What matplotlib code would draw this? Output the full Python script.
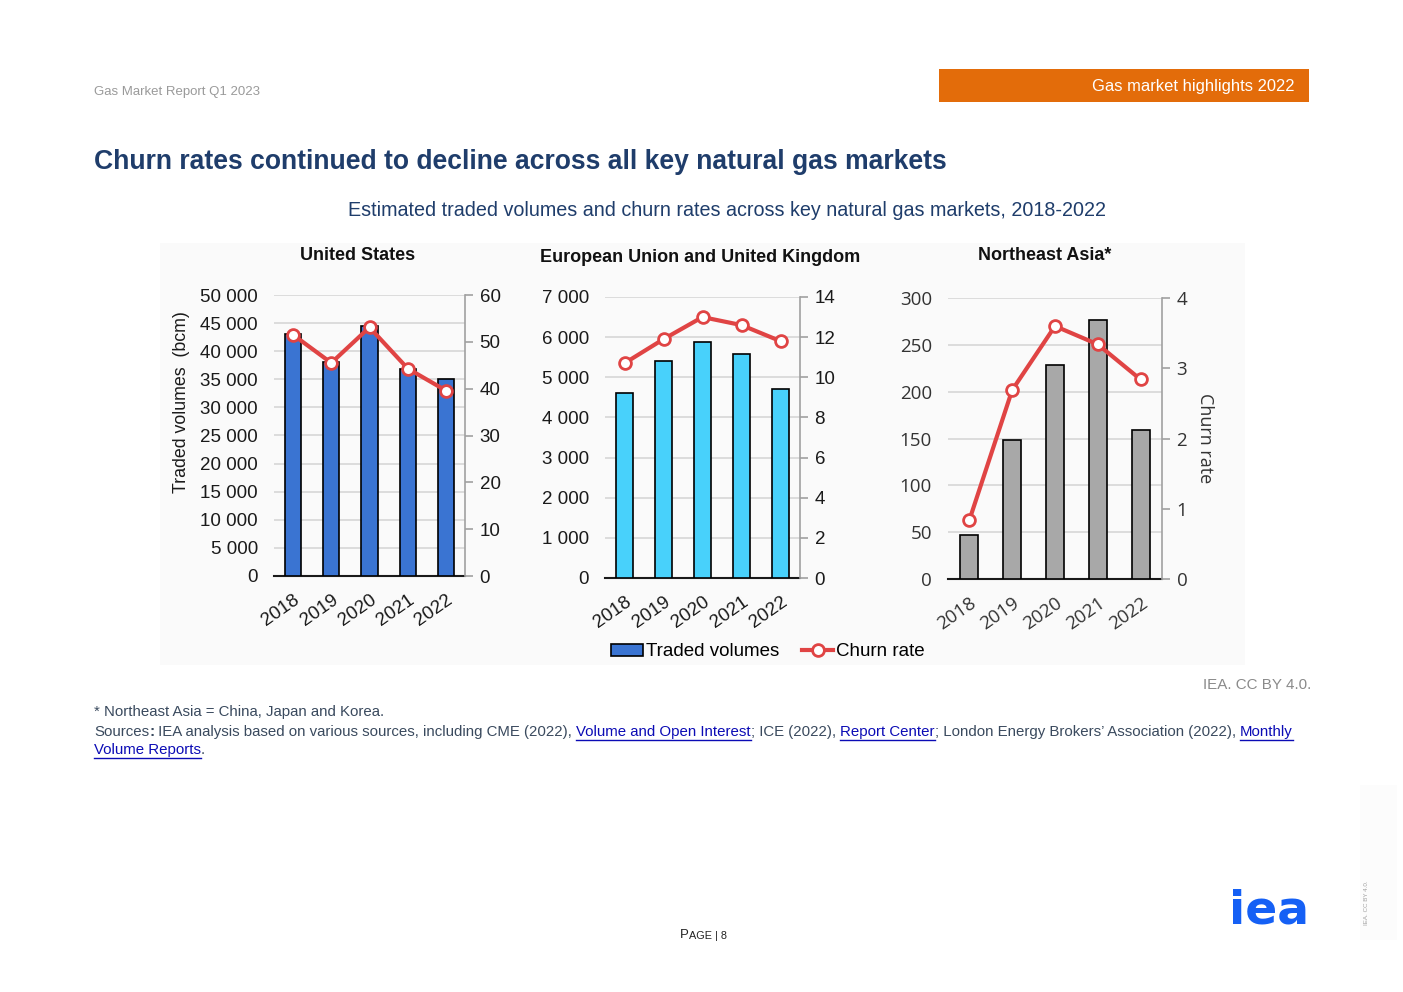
import matplotlib
matplotlib.use("Agg")
import matplotlib.pyplot as plt
from matplotlib.patches import Rectangle
from matplotlib.lines import Line2D

plt.rcParams["font.family"] = ["Liberation Sans", "DejaVu Sans"]

# ── data ─────────────────────────────────────────────────────────────────────
years = ["2018", "2019", "2020", "2021", "2022"]

us_volumes = [43000, 38100, 44500, 36900, 35100]
us_churn = [51.5, 45.5, 53.1, 44.3, 39.6]

eu_volumes = [4600, 5400, 5870, 5580, 4700]
eu_churn = [10.7, 11.9, 13.0, 12.6, 11.8]

nea_volumes = [47, 148, 229, 277, 159]
nea_churn = [0.84, 2.69, 3.6, 3.34, 2.84]

# ── palette ──────────────────────────────────────────────────────────────────
NAVY = "#1f3d6b"
ORANGE = "#e36c0a"
RED = "#e04444"
GRID = "#d9d9d9"
US_BLUE = "#3a74d2"
EU_CYAN = "#48d1fb"
NEA_GREY = "#a8a8a8"
LINK = "#0b0bb5"
FOOT = "#3a4a5e"

fig = plt.figure(figsize=(14.03, 9.92), dpi=100)
fig.patch.set_facecolor("white")

W, H = 1403, 992


def fx(px):
    return px / W


def fy(py):
    return 1 - py / H


# faint panel behind charts
fig.add_artist(Rectangle((fx(160), fy(665)), fx(1245) - fx(160), fy(243) - fy(665),
                         transform=fig.transFigure, fc="#fafafa", ec="none", zorder=0))
# faint strip at right edge
fig.add_artist(Rectangle((fx(1360), fy(940)), fx(37), fy(785) - fy(940),
                         transform=fig.transFigure, fc="#fcfcfc", ec="none", zorder=0))

# ── header ───────────────────────────────────────────────────────────────────
fig.text(fx(94), fy(92), "Gas Market Report Q1 2023", fontsize=9.5, color="#9a9a9a",
         ha="left", va="center")
fig.add_artist(Rectangle((fx(939), fy(102)), fx(1309) - fx(939), fy(69) - fy(102),
                         transform=fig.transFigure, fc=ORANGE, ec="none"))
fig.text(fx(1295), fy(86), "Gas market highlights 2022", fontsize=11.9, color="white",
         ha="right", va="center")

fig.text(fx(94), fy(162), "Churn rates continued to decline across all key natural gas markets",
         fontsize=19.1, fontweight="bold", color=NAVY, ha="left", va="center")
fig.text(fx(727), fy(210), "Estimated traded volumes and churn rates across key natural gas markets, 2018-2022",
         fontsize=14.25, color=NAVY, ha="center", va="center")


# ── charts ───────────────────────────────────────────────────────────────────
def panel(left, right, top, bottom, vols, churn, ymax, ystep, rmax, rstep,
          color, title, title_x, title_y, fmt, font=None):
    ax = fig.add_axes([fx(left), fy(bottom), fx(right) - fx(left), fy(top) - fy(bottom)])
    ax.set_facecolor("none")
    x = list(range(len(years)))
    ax.bar(x, vols, width=0.42, color=color, edgecolor="black", linewidth=1.2, zorder=3)
    ax.set_xlim(-0.5, len(years) - 0.5)
    ax.set_ylim(0, ymax)
    yt = list(range(0, ymax + 1, ystep))
    ax.set_yticks(yt)
    ax.set_yticklabels([fmt(v) for v in yt])
    ax.yaxis.grid(True, color=GRID, linewidth=1.3, zorder=0)
    ax.set_axisbelow(True)
    ax.tick_params(axis="y", length=0, pad=11.5, labelsize=13.5, labelcolor="#1a1a1a")
    ax.set_xticks(x)
    ax.set_xticklabels(years, rotation=35, ha="right", rotation_mode="anchor")
    ax.tick_params(axis="x", length=0, pad=11, labelsize=13.5, labelcolor="#1a1a1a")
    for s in ("left", "top", "right"):
        ax.spines[s].set_visible(False)
    ax.spines["bottom"].set_color("#1a1a1a")
    ax.spines["bottom"].set_linewidth(1.5)

    ax2 = ax.twinx()
    ax2.plot(x, churn, color=RED, linewidth=3, marker="o", markersize=8.5,
             markerfacecolor="white", markeredgecolor=RED, markeredgewidth=2, zorder=5)
    ax2.set_ylim(0, rmax)
    rt = list(range(0, rmax + 1, rstep))
    ax2.set_yticks(rt)
    ax2.tick_params(axis="y", length=6, width=1.2, color="#a0a0a0", pad=4.5,
                    labelsize=13.5, labelcolor="#1a1a1a")
    for s in ("left", "top", "bottom"):
        ax2.spines[s].set_visible(False)
    ax2.spines["right"].set_color("#a0a0a0")
    ax2.spines["right"].set_linewidth(1.2)

    if font:
        for lab in ax.get_yticklabels() + ax.get_xticklabels() + ax2.get_yticklabels():
            lab.set_family(font)
            lab.set_color("#333333")

    fig.text(fx(title_x), fy(title_y), title, fontsize=13, fontweight="bold",
             color="#111111", ha="center", va="center")
    return ax, ax2


def spaced(v):
    return f"{v:,}".replace(",", " ")


ax_us, ax_us2 = panel(274, 465, 295, 576, us_volumes, us_churn, 50000, 5000, 60, 10,
                      US_BLUE, "United States", 358, 256, spaced)
ax_us.set_ylabel("Traded volumes  (bcm)", fontsize=12.8, color="#1a1a1a")
ax_us.yaxis.set_label_coords(-0.44, 0.62)

ax_eu, ax_eu2 = panel(605, 800, 297, 578, eu_volumes, eu_churn, 7000, 1000, 14, 2,
                      EU_CYAN, "European Union and United Kingdom", 700, 257, spaced)

ax_na, ax_na2 = panel(948, 1162, 298, 579, nea_volumes, nea_churn, 300, 50, 4, 1,
                      NEA_GREY, "Northeast Asia*", 1045, 255, str, font="Open Sans")
ax_na2.set_ylabel("Churn rate", fontsize=13, color="#333333", family="Open Sans",
                  rotation=-90, va="center", ha="center")
ax_na2.yaxis.set_label_coords(1.20, 0.50)

# ── legend ───────────────────────────────────────────────────────────────────
handles = [
    Rectangle((0, 0), 1, 1, fc=US_BLUE, ec="black", lw=1.2),
    Line2D([], [], color=RED, linewidth=3, marker="o", markersize=8.5,
           markerfacecolor="white", markeredgecolor=RED, markeredgewidth=2),
]
fig.legend(handles, ["Traded volumes", "Churn rate"], loc="center",
           bbox_to_anchor=(fx(768), fy(652)), ncol=2, frameon=False, fontsize=13.5,
           handlelength=1.7, handletextpad=0.15, columnspacing=1.2, handleheight=0.55)

# ── footer ───────────────────────────────────────────────────────────────────
fig.text(fx(1311), fy(685), "IEA. CC BY 4.0.", fontsize=10.9, color="#8a8a8a",
         ha="right", va="center")
fig.text(fx(94), fy(712), "* Northeast Asia = China, Japan and Korea.", fontsize=10.8,
         color=FOOT, ha="left", va="center")

# sources line with underlined links
parts = [
    ("Sources", FOOT, False, "normal"),
    (":", FOOT, False, "bold"),
    (" IEA analysis based on various sources, including CME (2022), ", FOOT, False, "normal"),
    ("Volume and Open Interest", LINK, True, "normal"),
    ("; ICE (2022), ", FOOT, False, "normal"),
    ("Report Center", LINK, True, "normal"),
    ("; London Energy Brokers\u2019 Association (2022), ", FOOT, False, "normal"),
    ("Monthly", LINK, True, "normal"),
]
fig.canvas.draw()
renderer = fig.canvas.get_renderer()
xpos = fx(94)
for txt, col, underline, weight in parts:
    t = fig.text(xpos, fy(732), txt, fontsize=10.8, color=col, ha="left", va="center",
                 fontweight=weight)
    bb = t.get_window_extent(renderer=renderer)
    w = bb.width / fig.bbox.width
    if underline:
        fig.add_artist(Line2D([xpos, xpos + w], [fy(740), fy(740)], transform=fig.transFigure,
                              color=col, linewidth=1))
    xpos += w

t = fig.text(fx(94), fy(750), "Volume Reports", fontsize=10.8, color=LINK, ha="left", va="center")
bb = t.get_window_extent(renderer=renderer)
w = bb.width / fig.bbox.width
fig.add_artist(Line2D([fx(94), fx(94) + w], [fy(758), fy(758)], transform=fig.transFigure,
                      color=LINK, linewidth=1))
fig.text(fx(94) + w, fy(750), ".", fontsize=10.8, color=FOOT, ha="left", va="center")

# page number
fig.text(fx(689), fy(935), "P", fontsize=9.5, color="#222222", ha="right", va="center")
fig.text(fx(689), fy(936), "AGE | 8", fontsize=7.8, color="#222222", ha="left", va="center")

# iea logo
fig.text(fx(1269), fy(911), "iea", fontsize=34, fontweight="bold", color="#1560f5",
         ha="center", va="center", family="DejaVu Sans")
fig.text(fx(1366), fy(903), "IEA. CC BY 4.0.", fontsize=4.5, color="#a0a0a0",
         rotation=90, ha="center", va="center")

fig.savefig("out.png", dpi=100, facecolor="white")
